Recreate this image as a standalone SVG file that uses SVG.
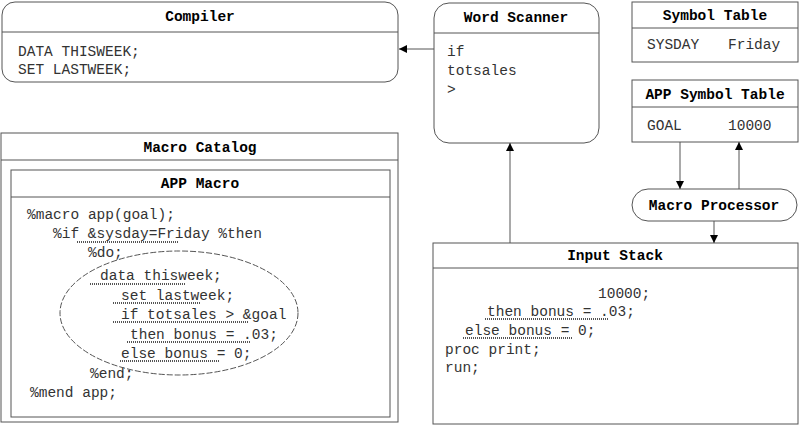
<svg xmlns="http://www.w3.org/2000/svg" width="800" height="433" viewBox="0 0 800 433">
<defs>
<style>
.box{fill:#fff;stroke:#555;stroke-width:1}
.sep{stroke:#555;stroke-width:1}
.t{font-family:"Liberation Mono","DejaVu Sans Mono",monospace;font-size:14.5px;font-weight:bold;fill:#000;text-anchor:middle}
.b{font-family:"Liberation Mono","DejaVu Sans Mono",monospace;font-size:14.5px;fill:#333}
.ul{stroke:#555;stroke-width:2;stroke-dasharray:1 1}
.cn{stroke:#555;stroke-width:1;fill:none}
</style>
<marker id="ah" viewBox="0 0 10 10" refX="10" refY="5" markerWidth="8" markerHeight="8" orient="auto" markerUnits="userSpaceOnUse">
<path d="M0,0 L10,5 L0,10 z" fill="#000"/>
</marker>
</defs>
<rect width="800" height="433" fill="#fff"/>

<g id="compiler">
<rect class="box" x="2" y="2" width="396" height="80" rx="13"/>
<line class="sep" x1="2" y1="32" x2="398" y2="32"/>
<text class="t" x="200" y="21">Compiler</text>
<text class="b" x="18" y="56">DATA THISWEEK;</text>
<text class="b" x="18" y="74">SET LASTWEEK;</text>
</g>

<g id="word-scanner">
<rect class="box" x="434" y="3" width="165" height="140" rx="15"/>
<line class="sep" x1="434" y1="33" x2="599" y2="33"/>
<text class="t" x="516" y="22">Word Scanner</text>
<text class="b" x="447" y="56">if</text>
<text class="b" x="447" y="75">totsales</text>
<text class="b" x="447" y="94">&gt;</text>
</g>

<g id="symbol-table">
<rect class="box" x="632" y="2" width="166" height="60"/>
<line class="sep" x1="632" y1="28" x2="798" y2="28"/>
<text class="t" x="715" y="20">Symbol Table</text>
<text class="b" x="647" y="49">SYSDAY</text>
<text class="b" x="728" y="49">Friday</text>
</g>

<g id="app-symbol-table">
<rect class="box" x="632" y="80" width="166" height="62"/>
<line class="sep" x1="632" y1="107" x2="798" y2="107"/>
<text class="t" x="715" y="99">APP Symbol Table</text>
<text class="b" x="647" y="130">GOAL</text>
<text class="b" x="728" y="130">10000</text>
</g>

<g id="macro-processor">
<rect class="box" x="632" y="189" width="165" height="32" rx="16"/>
<text class="t" x="714" y="210">Macro Processor</text>
</g>

<g id="macro-catalog">
<rect class="box" x="1" y="133" width="397" height="289"/>
<line class="sep" x1="1" y1="160" x2="398" y2="160"/>
<text class="t" x="200" y="152">Macro Catalog</text>
</g>

<g id="app-macro">
<rect class="box" x="11" y="170" width="379" height="247"/>
<line class="sep" x1="11" y1="197" x2="390" y2="197"/>
<text class="t" x="200" y="188">APP Macro</text>
<text class="b" x="27" y="219">%macro app(goal);</text>
<text class="b" x="53" y="238">%if &amp;sysday=Friday %then</text>
<text class="b" x="88" y="257">%do;</text>
<text class="b" x="100" y="280">data thisweek;</text>
<text class="b" x="121" y="300">set lastweek;</text>
<text class="b" x="121" y="319">if totsales &gt; &amp;goal</text>
<text class="b" x="130" y="339">then bonus = .03;</text>
<text class="b" x="121" y="358">else bonus = 0;</text>
<text class="b" x="90" y="378">%end;</text>
<text class="b" x="30" y="397">%mend app;</text>
<line class="ul" x1="77" y1="242" x2="178" y2="242"/>
<line class="ul" x1="90" y1="284" x2="185" y2="284"/>
<line class="ul" x1="113" y1="303" x2="200" y2="303"/>
<line class="ul" x1="113" y1="322" x2="248" y2="322"/>
<line class="ul" x1="127" y1="342" x2="250" y2="342"/>
<line class="ul" x1="120" y1="361" x2="220" y2="361"/>
<ellipse cx="179" cy="313" rx="119" ry="62" fill="none" stroke="#555" stroke-width="1" stroke-dasharray="6 2"/>
</g>

<g id="input-stack">
<rect class="box" x="433" y="243" width="365" height="181"/>
<line class="sep" x1="433" y1="268" x2="798" y2="268"/>
<text class="t" x="615" y="260">Input Stack</text>
<text class="b" x="598" y="298">10000;</text>
<text class="b" x="487" y="316">then bonus = .03;</text>
<text class="b" x="465" y="335">else bonus = 0;</text>
<text class="b" x="445" y="354">proc print;</text>
<text class="b" x="445" y="372">run;</text>
<line class="ul" x1="485" y1="319" x2="608" y2="319"/>
<line class="ul" x1="463" y1="338" x2="573" y2="338"/>
</g>

<g id="connectors">
<line class="cn" x1="434" y1="49" x2="399" y2="49" marker-end="url(#ah)"/>
<line class="cn" x1="510" y1="243" x2="510" y2="143" marker-end="url(#ah)"/>
<line class="cn" x1="680" y1="142" x2="680" y2="189" marker-end="url(#ah)"/>
<line class="cn" x1="739" y1="189" x2="739" y2="142" marker-end="url(#ah)"/>
<line class="cn" x1="714" y1="221" x2="714" y2="243" marker-end="url(#ah)"/>
</g>
</svg>
